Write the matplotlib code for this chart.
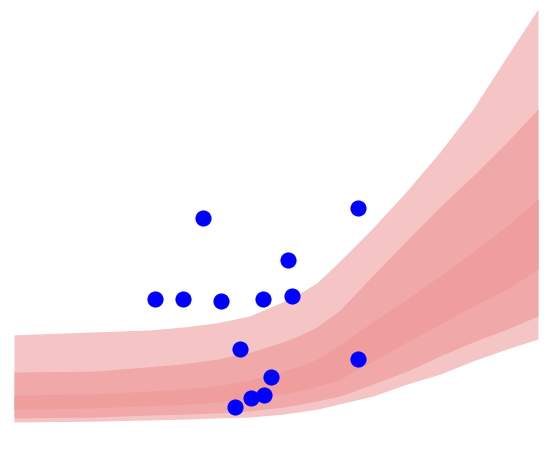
import matplotlib
matplotlib.use("Agg")
import matplotlib.pyplot as plt

# ── Band grid and boundaries (nested uncertainty bands) ──────────────────────
x_grid = [0.0, 1.51, 2.60, 3.23, 3.87, 4.50, 5.13, 5.46, 5.78, 6.22, 6.85, 7.50, 8.13, 8.76, 9.41, 10.0]

outer_hi = [2.11, 2.18, 2.23, 2.30, 2.40, 2.57, 2.91, 3.12, 3.37, 3.90, 4.70, 5.60, 6.54, 7.58, 8.86, 10.0]
outer_lo = [0.00, 0.02, 0.05, 0.07, 0.10, 0.12, 0.19, 0.25, 0.31, 0.44, 0.63, 0.92, 1.16, 1.48, 1.77, 2.01]

mid_hi = [1.21, 1.23, 1.34, 1.41, 1.52, 1.69, 1.94, 2.10, 2.30, 2.71, 3.55, 4.40, 5.21, 5.96, 6.78, 7.58]
mid_lo = [0.10, 0.12, 0.17, 0.19, 0.22, 0.27, 0.36, 0.43, 0.51, 0.63, 0.92, 1.23, 1.60, 1.94, 2.25, 2.57]

inner_hi = [0.65, 0.68, 0.75, 0.80, 0.87, 1.02, 1.23, 1.36, 1.52, 1.87, 2.43, 2.98, 3.54, 4.12, 4.75, 5.40]
inner_lo = [0.31, 0.34, 0.40, 0.43, 0.48, 0.56, 0.68, 0.76, 0.86, 1.04, 1.48, 1.94, 2.37, 2.81, 3.22, 3.70]

# ── Observations ─────────────────────────────────────────────────────────────
obs_x = [2.69, 3.23, 3.61, 3.95, 4.31, 4.22, 4.52, 4.77, 4.90, 4.75, 5.23, 5.31, 6.56, 6.56]
obs_y = [2.98, 2.98, 4.94, 2.93, 1.77, 0.36, 0.58, 0.65, 1.09, 2.98, 3.92, 3.05, 5.18, 1.53]

fig = plt.figure(figsize=(5.48, 4.56), dpi=100)
ax = fig.add_axes([0, 0, 1, 1])

ax.fill_between(x_grid, outer_lo, outer_hi, color="#f5c4c4", lw=0)
ax.fill_between(x_grid, mid_lo, mid_hi, color="#f1a8a8", lw=0)
ax.fill_between(x_grid, inner_lo, inner_hi, color="#f09d9d", lw=0)

ax.scatter(obs_x, obs_y, s=135, color="#0000ff", zorder=3, linewidths=0)

ax.set_xlim(-0.267, 10.191)
ax.set_ylim(-0.799, 10.242)
ax.axis("off")

fig.savefig("out.png", dpi=100)
